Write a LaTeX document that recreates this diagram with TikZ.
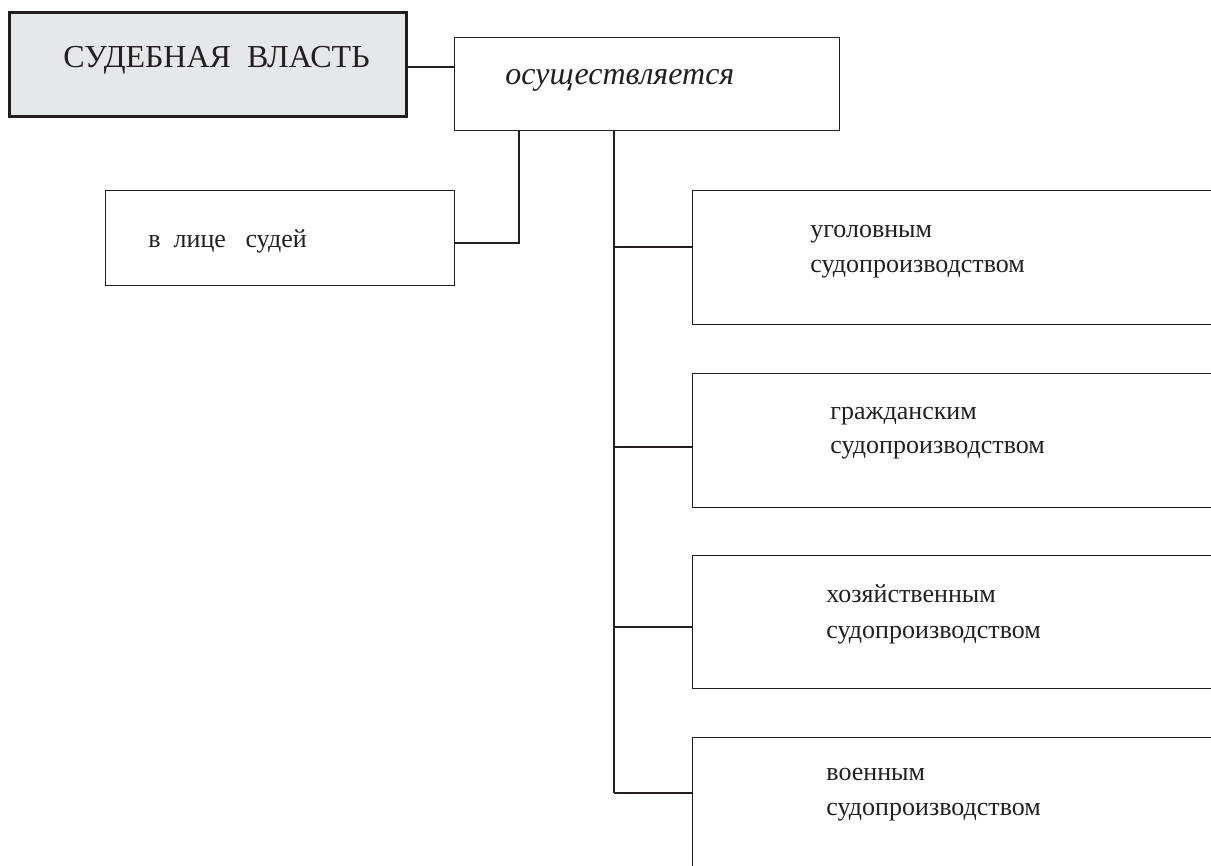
\documentclass[tikz,border=0pt]{standalone}
\usepackage{fontspec}
\setmainfont{Liberation Serif}
\definecolor{ink}{HTML}{231F20}
\definecolor{gbox}{HTML}{E6E7E8}
\begin{document}
\begin{tikzpicture}[x=0.5pt,y=-0.5pt,
  box/.style={draw=ink,line width=0.6pt,inner sep=0pt,anchor=north west,minimum width=#1},
  txt/.style={anchor=base west,inner sep=0pt,text=ink,font=\fontsize{13}{15}\selectfont},
  link/.style={draw=ink,line width=0.55pt}]
\clip (0,0) rectangle (1211,866);
% boxes
\node[box=198.5pt,minimum height=52pt,fill=gbox,line width=1.6pt] (gov) at (8,11) {};
\node[box=192.5pt,minimum height=46.5pt] (osu) at (454,37) {};
\node[box=174.5pt,minimum height=47.5pt] (sud) at (105,190) {};
\node[box=284pt,minimum height=67pt] (b1) at (692,190) {};
\node[box=284pt,minimum height=67pt] (b2) at (692,373) {};
\node[box=284pt,minimum height=66.5pt] (b3) at (692,555) {};
\node[box=284pt,minimum height=82pt] (b4) at (692,737) {};
% texts
\node[txt,font=\fontsize{16}{18}\selectfont] (t0) at (63,68) {СУДЕБНАЯ\ \ ВЛАСТЬ};
\node[txt,font=\fontsize{16}{18}\itshape] (t1) at (505,85) {осуществляется};
\node[txt] (t2) at (148,248) {в\ \ лице\ \ \ судей};
\node[txt] (t3a) at (810,238) {уголовным};
\node[txt] (t3b) at (810,273) {судопроизводством};
\node[txt] (t4a) at (830,420) {гражданским};
\node[txt] (t4b) at (830,453) {судопроизводством};
\node[txt] (t5a) at (826,602) {хозяйственным};
\node[txt] (t5b) at (826,638) {судопроизводством};
\node[txt] (t6a) at (826,780) {военным};
\node[txt] (t6b) at (826,815) {судопроизводством};
% junction points
\coordinate (g1) at (430,67);
\coordinate (c1) at (519,243);
\coordinate (k1) at (614,247);
\coordinate (k2) at (614,447);
\coordinate (k3) at (614,627);
\coordinate (k4) at (614,793);
% connectors
\draw[link] (gov.east |- g1) -- (osu.west |- g1);
\draw[link] (osu.south -| c1) -- (c1) -- (sud.east |- c1);
\draw[link] (osu.south -| k1) -- (k4);
\draw[link] (k1) -- (b1.west |- k1);
\draw[link] (k2) -- (b2.west |- k2);
\draw[link] (k3) -- (b3.west |- k3);
\draw[link] (k4) -- (b4.west |- k4);
\end{tikzpicture}
\end{document}
